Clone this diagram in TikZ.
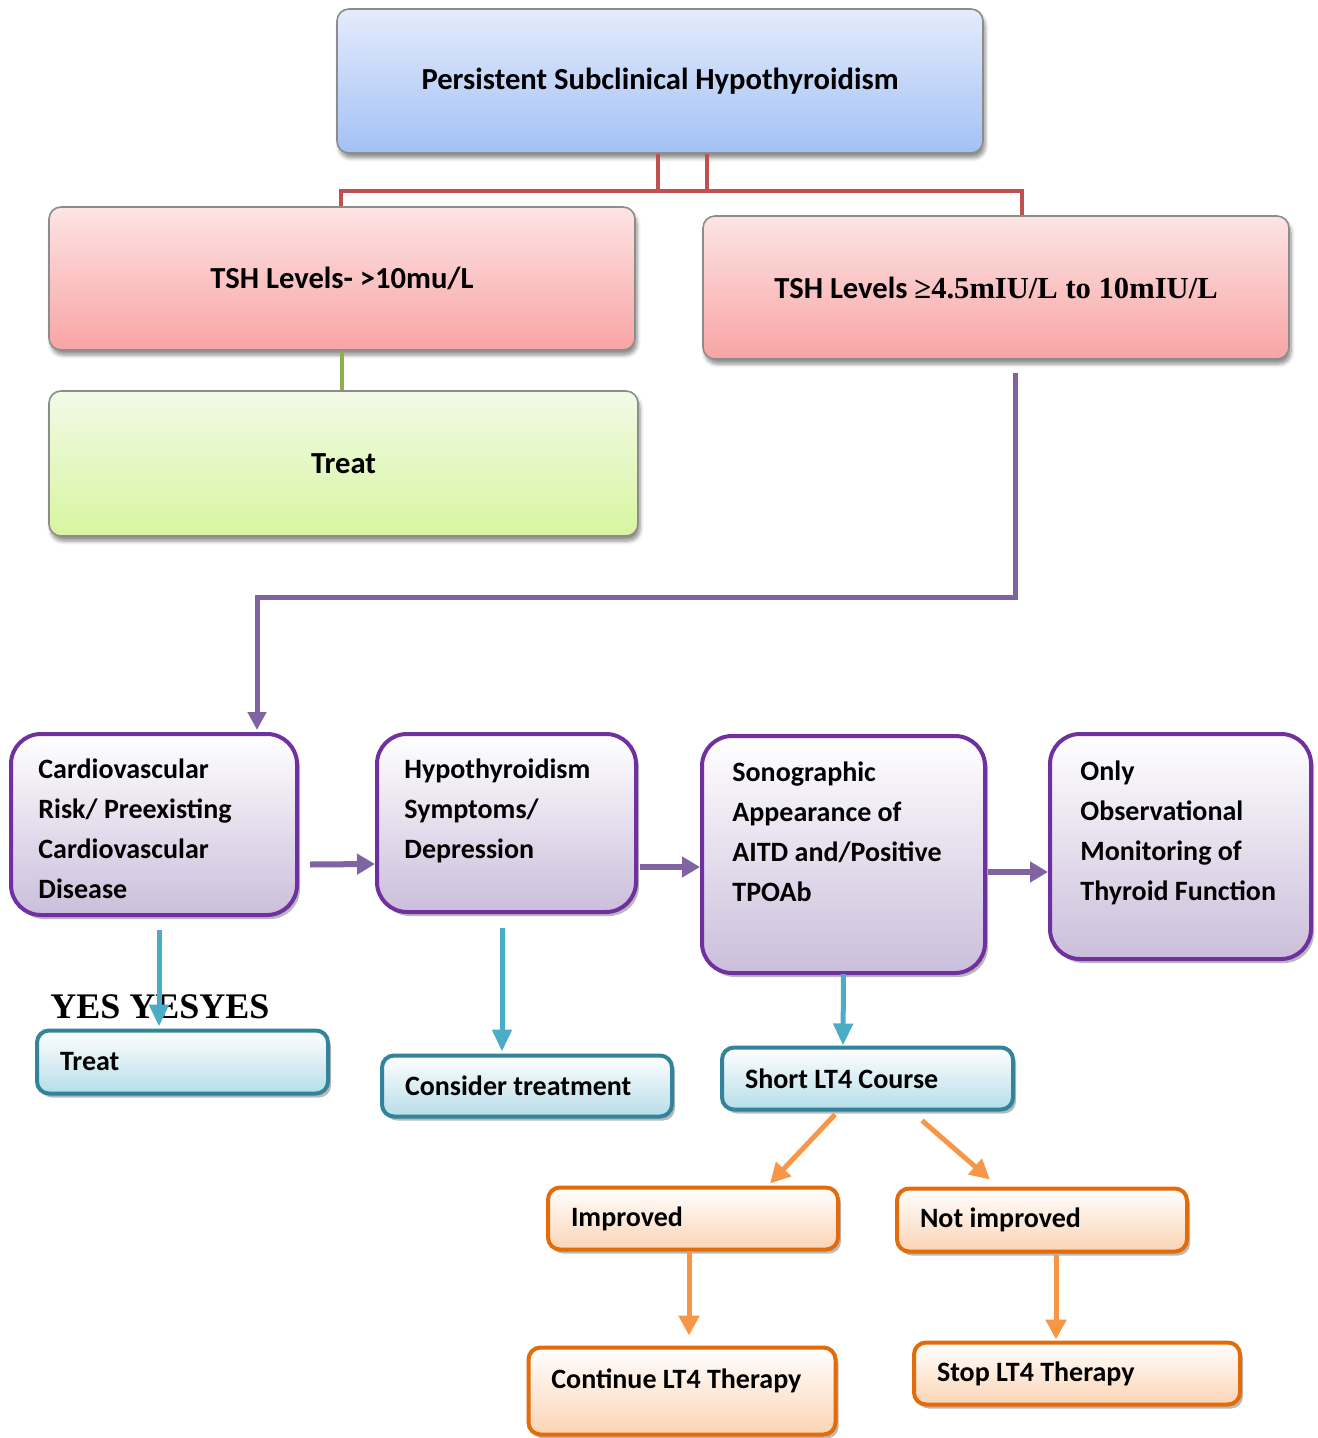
\documentclass[tikz,border=0pt]{standalone}
\usepackage{fontspec}
\setmainfont{Carlito}
\newfontfamily\serifbold{Liberation Serif}
\usetikzlibrary{arrows.meta,calc,shadows,shadows.blur}

\definecolor{blueT}{HTML}{E4EBFC}
\definecolor{blueB}{HTML}{A3C1F5}
\definecolor{pinkT}{HTML}{FDE4E4}
\definecolor{pinkB}{HTML}{F8A4A4}
\definecolor{greenT}{HTML}{F2FAE6}
\definecolor{greenB}{HTML}{D7F5A0}
\definecolor{purpB}{HTML}{7030A0}
\definecolor{purpF}{HTML}{CBBEDB}
\definecolor{tealB}{HTML}{31849B}
\definecolor{tealF}{HTML}{B6DDE8}
\definecolor{orgB}{HTML}{E36C0A}
\definecolor{orgF}{HTML}{FBD4B4}
\definecolor{lnRed}{HTML}{C0504D}
\definecolor{lnGreen}{HTML}{8DB04A}
\definecolor{lnPurp}{HTML}{8064A2}
\definecolor{lnTeal}{HTML}{4BACC6}
\definecolor{lnOrg}{HTML}{F79646}

\begin{document}
\begin{tikzpicture}[x=0.5pt,y=-0.5pt,
  bigfont/.style={font=\fontsize{15.3}{18}\selectfont\bfseries},
  txt/.style={font=\fontsize{14}{20}\selectfont\bfseries},
  topbox/.style={draw=black!45, line width=0.8pt, rounded corners=6pt,
    bigfont, align=center,
    blur shadow={shadow xshift=1pt, shadow yshift=-2.5pt, shadow blur steps=6, shadow opacity=45}},
  bluebox/.style={topbox, top color=blueT, bottom color=blueB},
  pinkbox/.style={topbox, top color=pinkT, bottom color=pinkB},
  greenbox/.style={topbox, top color=greenT, bottom color=greenB},
  purpbox/.style={draw=purpB, line width=2pt, rounded corners=15pt,
    top color=white, bottom color=purpF,
    drop shadow={shadow xshift=1.5pt, shadow yshift=-2pt, fill=black!50, opacity=0.55}},
  flatbox/.style={line width=2pt, rounded corners=6pt, txt, align=flush left,
    inner xsep=11.5pt, inner ysep=0pt, top color=white,
    drop shadow={shadow xshift=1.5pt, shadow yshift=-2pt, fill=black!50, opacity=0.55}},
  tealbox/.style={flatbox, draw=tealB, bottom color=tealF},
  orgbox/.style={flatbox, draw=orgB, bottom color=orgF},
  lbl/.style={txt, align=left, anchor=base west, inner sep=0pt},
  redln/.style={draw=lnRed, line width=2pt},
  grnln/.style={draw=lnGreen, line width=2pt},
  purpln/.style={draw=lnPurp, line width=2.5pt, -{Triangle[width=9pt,length=9pt]}},
  purparr/.style={draw=lnPurp, line width=3pt, -{Triangle[width=10pt,length=9pt]}},
  tealarr/.style={draw=lnTeal, line width=2.5pt, -{Triangle[width=9.5pt,length=11pt]}},
  orgarr/.style={draw=lnOrg, line width=2.5pt, -{Triangle[width=10pt,length=10pt]}}
]
\useasboundingbox (0,0) rectangle (1317,1438);

% top level
\node[bluebox, minimum width=323pt, minimum height=72pt] (top) at (660,81)
  {Persistent Subclinical Hypothyroidism};
\node[pinkbox, minimum width=293pt, minimum height=71.5pt] (tsh10) at (342,278.5)
  {TSH Levels- >10mu/L};
\node[pinkbox, minimum width=293pt, minimum height=71.5pt] (tsh45) at (996,287.5)
  {TSH Levels {\serifbold ≥4.5mIU/L to 10mIU/L}};
\node[greenbox, minimum width=294.5pt, minimum height=72.5pt] (treatg) at (343.5,463.5)
  {Treat};

% branching lines from the top box
\draw[redln] ($(top.south)+(-2,0)$) -- ++(0,37) -| ($(tsh45.north)+(26,0)$);
\draw[redln] ($(top.south)+(47,0)$) -- ++(0,37) -| ($(tsh10.north)+(-1,0)$);
\draw[grnln] (tsh10.south) -- (tsh10.south |- treatg.north);

% criteria row
\node[purpbox, minimum width=143pt, minimum height=90.5pt] (cvd) at (154,824.5) {};
\node[purpbox, minimum width=129.5pt, minimum height=89pt] (hyp) at (506.5,823) {};
\node[purpbox, minimum width=141.5pt, minimum height=118.5pt] (sono) at (843.5,854.5) {};
\node[purpbox, minimum width=130.5pt, minimum height=112.5pt] (obs) at (1180.5,846.5) {};

% multi-line labels: the base anchor sits on the last line
\node[lbl] (cvdt) at (38,898) {Cardiovascular\\Risk/ Preexisting\\Cardiovascular\\Disease};
\node[lbl] (hypt) at (404,858) {Hypothyroidism\\Symptoms/\\Depression};
\node[lbl] (sonot) at (732,901) {Sonographic\\Appearance of\\AITD and/Positive\\TPOAb};
\node[lbl] (obst) at (1080,900) {Only\\Observational\\Monitoring of\\Thyroid Function};

\draw[purpln] ($(tsh45.south)+(19,13)$) -- ++(0,225) -| ($(cvd.north)+(103,-2)$);
\draw[purparr] ($(cvd.east)+(11,40)$) -- ($(hyp.west)+(0,41)$);
\draw[purparr] ($(hyp.east)+(2,44)$) -- ($(sono.west)+(0,12.5)$);
\draw[purparr] ($(sono.east)+(1,17.5)$) -- ($(obs.west)+(0,25.5)$);

% actions
\node[font=\serifbold\bfseries\fontsize{18}{20}\selectfont, anchor=base west, inner sep=0pt]
  (yes) at (50,1018) {YES YESYES};

\node[tealbox, text width=122.5pt, minimum height=31.5pt] (treatb) at (182.5,1062) {Treat};
\node[tealbox, text width=122pt, minimum height=30.5pt] (cons) at (527,1086) {Consider treatment};
\node[tealbox, text width=122.5pt, minimum height=31pt] (short) at (867.5,1078.5) {Short LT4 Course};

\draw[tealarr] ($(cvd.south)+(5,13)$) -- ($(treatb.north)+(-23.5,-2)$);
\draw[tealarr] ($(hyp.south)+(-4.5,14)$) -- ($(cons.north)+(-25,-2)$);
\draw[tealarr] ($(sono.south)+(0,-1)$) -- ($(short.north)+(-24.5,0)$);

\node[orgbox, text width=122pt, minimum height=31pt] (impr) at (693,1218.5) {Improved};
\node[orgbox, text width=122pt, minimum height=31.5pt] (notimp) at (1042,1220) {Not improved};
\node[orgbox, minimum width=153.5pt, minimum height=43.5pt] (cont) at (682,1391) {};
\node[lbl] (contt) at (551,1388) {Continue LT4 Therapy};
\node[orgbox, text width=140pt, minimum height=31pt] (stop) at (1077,1373.5) {Stop LT4 Therapy};

\draw[orgarr] ($(short.south)+(-32.5,3)$) -- ($(impr.north)+(77,-2)$);
\draw[orgarr] ($(short.south)+(54.5,9)$) -- ($(notimp.north)+(-52,-7)$);
\draw[orgarr] ($(impr.south)+(-4,-1)$) -- ($(cont.north)+(7,-10)$);
\draw[orgarr] ($(notimp.south)+(14,1)$) -- ($(stop.north)+(-21,-1)$);
\end{tikzpicture}
\end{document}
